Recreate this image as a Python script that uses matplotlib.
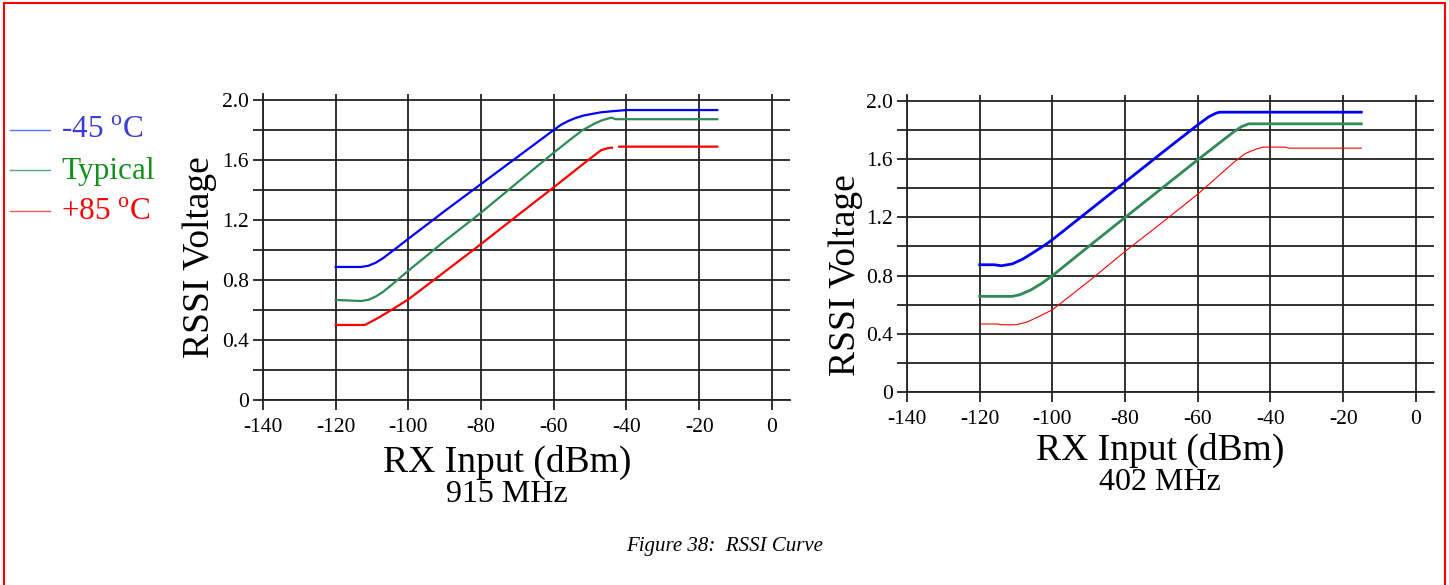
import matplotlib
matplotlib.use("Agg")
from matplotlib import pyplot as plt
from matplotlib.lines import Line2D
from matplotlib.patches import Rectangle
import numpy as np

plt.rcParams['font.family'] = ['Liberation Serif', 'DejaVu Serif']
plt.rcParams['mathtext.fontset'] = 'custom'
plt.rcParams['mathtext.rm'] = 'Liberation Serif'
plt.rcParams['axes.unicode_minus'] = False

# 915 MHz curves
x_915_cold = [-120, -113, -111, -109, -107, -104, -100, -90, -80, -70, -60, -58, -56, -54, -52, -50, -47, -44, -40, -15]
y_915_cold = [0.887, 0.887, 0.895, 0.915, 0.945, 1.0, 1.075, 1.26, 1.44, 1.62, 1.80, 1.835, 1.86, 1.88, 1.895, 1.905, 1.918, 1.925, 1.933, 1.933]
x_915_typ = [-120, -113, -111, -109, -107, -104, -100, -90, -80, -70, -60, -55, -52, -49, -47, -45, -44, -43, -15]
y_915_typ = [0.667, 0.66, 0.668, 0.69, 0.72, 0.78, 0.862, 1.06, 1.249, 1.45, 1.649, 1.745, 1.80, 1.84, 1.862, 1.877, 1.882, 1.872, 1.872]
x_915_hot = [-120, -112, -110, -108, -104, -100, -90, -80, -70, -60, -50, -47, -45, -44, np.nan, -42, -15]
y_915_hot = [0.5, 0.5, 0.525, 0.552, 0.61, 0.671, 0.855, 1.04, 1.23, 1.418, 1.61, 1.665, 1.68, 1.682, np.nan, 1.689, 1.689]

# 402 MHz curves
x_402_cold = [-120, -116, -114, -111, -108, -105, -102, -100, -90, -80, -70, -60, -57, -55, -54, -15]
y_402_cold = [0.874, 0.874, 0.867, 0.88, 0.915, 0.962, 1.01, 1.046, 1.244, 1.442, 1.64, 1.835, 1.89, 1.915, 1.922, 1.922]
x_402_typ = [-120, -111, -109, -106, -103, -100, -90, -80, -70, -60, -50, -48, -46, -15]
y_402_typ = [0.657, 0.657, 0.668, 0.7, 0.745, 0.799, 1.0, 1.199, 1.397, 1.595, 1.789, 1.822, 1.842, 1.842]
x_402_hot = [-120, -115, -114, -110, -107, -104, -100, -90, -80, -70, -60, -50, -47, -44, -42, -36, -35, -15]
y_402_hot = [0.467, 0.467, 0.462, 0.462, 0.48, 0.515, 0.565, 0.76, 0.966, 1.16, 1.359, 1.579, 1.637, 1.668, 1.682, 1.682, 1.675, 1.675]

x_ticks = [-140, -120, -100, -80, -60, -40, -20, 0]
y_ticks = [0, 0.4, 0.8, 1.2, 1.6, 2.0]
y_tick_labels = ["0", "0.4", "0.8", "1.2", "1.6", "2.0"]
legend_labels = ["-45 $^{\\mathrm{o}}$C", "Typical", "+85 $^{\\mathrm{o}}$C"]

W, H = 1449, 585
fig = plt.figure(figsize=(W / 100, H / 100), dpi=100)


def px(x, y):
    return x / W, 1 - y / H


def setup(ax):
    ax.set_xlim(-140, 5)
    ax.set_ylim(0, 2.04)
    ax.set_xticks(x_ticks)
    ax.set_xticklabels([str(t) for t in x_ticks])
    ax.set_yticks(y_ticks)
    ax.set_yticklabels(y_tick_labels)
    ax.set_yticks(np.arange(0.2, 2.0, 0.4), minor=True)
    ax.grid(True, which='both', color='#222222', lw=1.3)
    ax.tick_params(which='both', direction='out', length=7, width=1.3, color='#222222',
                   labelsize=15.5, pad=3)
    ax.tick_params(axis='x', pad=6)
    for s in ['top', 'right']:
        ax.spines[s].set_visible(False)
    for s in ['left', 'bottom']:
        ax.spines[s].set_color('#222222')
        ax.spines[s].set_linewidth(1.3)
    ax.set_axisbelow(True)


ax1 = fig.add_axes([263 / W, 1 - 400 / H, 527 / W, 306 / H])
setup(ax1)
ax1.plot(x_915_cold, y_915_cold, color='#0000ff', lw=1.6)
ax1.plot(x_915_typ, y_915_typ, color='#2e8b57', lw=1.6)
ax1.plot(x_915_hot, y_915_hot, color='#ff0000', lw=1.6)

ax2 = fig.add_axes([907 / W, 1 - 392 / H, 527 / W, 297 / H])
setup(ax2)
ax2.plot(x_402_cold, y_402_cold, color='#0000ff', lw=2)
ax2.plot(x_402_typ, y_402_typ, color='#2e8b57', lw=2)
ax2.plot(x_402_hot, y_402_hot, color='#ff0000', lw=0.8)

# axis titles
fig.text(*px(200, 257), "RSSI Voltage", rotation=90, fontsize=27, ha='center', va='center')
fig.text(*px(846, 275), "RSSI Voltage", rotation=90, fontsize=27, ha='center', va='center')
fig.text(*px(507, 462), "RX Input (dBm)", fontsize=27, ha='center', va='center')
fig.text(*px(1160, 450), "RX Input (dBm)", fontsize=27, ha='center', va='center')
fig.text(*px(507, 495), "915 MHz", fontsize=23, ha='center', va='center')
fig.text(*px(1160, 482), "402 MHz", fontsize=23, ha='center', va='center')
fig.text(*px(725, 546), "Figure 38:  RSSI Curve", fontsize=15, style='italic',
         ha='center', va='center')

# legend
leg_line_colors = ['#5577ff', '#55aa77', '#ff5555']
leg_text_colors = ['#3b3bd6', '#12901a', '#ff0000']
leg_y = [130, 170, 211]
for lab, lc, tc, yy in zip(legend_labels, leg_line_colors, leg_text_colors, leg_y):
    fig.add_artist(Line2D([10 / W, 50 / W], [1 - yy / H, 1 - yy / H], color=lc, lw=1))
    fig.text(*px(61, yy + 1), lab, fontsize=22.5, color=tc, ha='left', va='center')

# red page frame
fig.add_artist(Rectangle((4 / W, -0.05), (1441) / W, 1.05 - 3 / H, fill=False,
                         edgecolor='#ff0000', lw=1.5, transform=fig.transFigure))

fig.savefig("out.png", dpi=100)
